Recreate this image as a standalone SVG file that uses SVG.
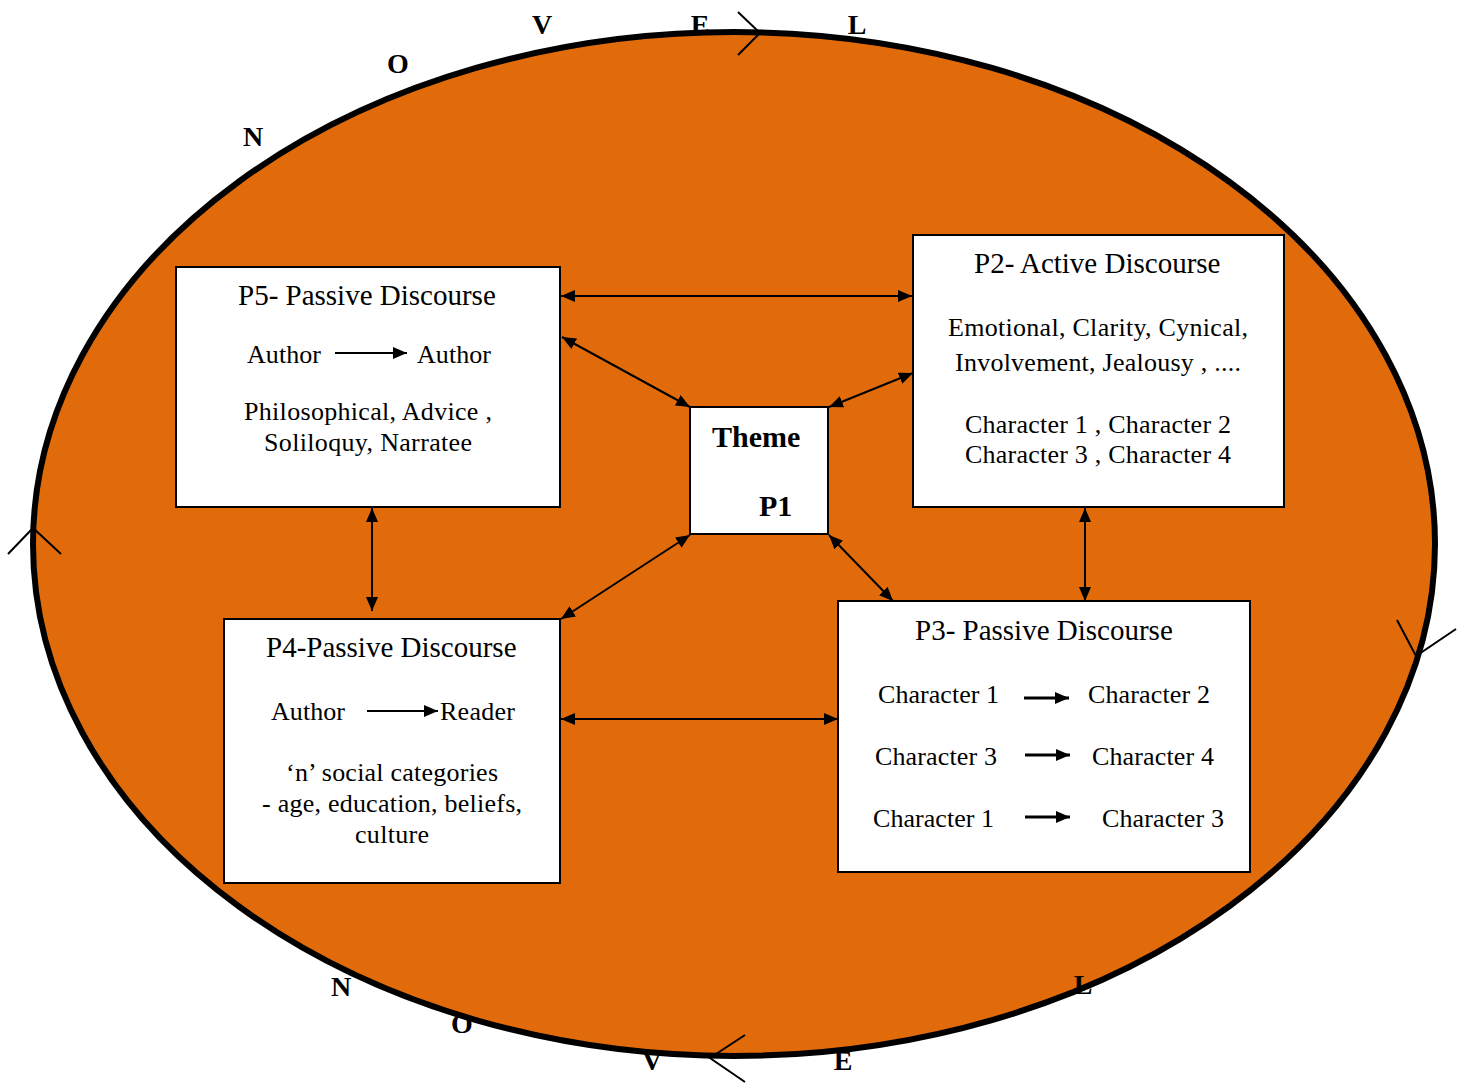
<svg xmlns="http://www.w3.org/2000/svg" width="1465" height="1084" viewBox="0 0 1465 1084">
<style>
.t{font-family:"Liberation Serif","Times New Roman",serif;font-size:26px;fill:#000}
.h{font-size:29px}
.b{font-family:"Liberation Serif","Times New Roman",serif;font-weight:bold;fill:#000}
.lt{font-size:28px;text-anchor:middle}
.box{fill:#fff;stroke:#000;stroke-width:2}
.con{stroke:#000;stroke-width:2;fill:none;marker-start:url(#ah);marker-end:url(#ah)}
.tk{stroke:#000;stroke-width:2;fill:none}
</style>
<defs>
<marker id="ah" viewBox="0 0 14 12" refX="14" refY="6" markerWidth="14" markerHeight="12" markerUnits="userSpaceOnUse" orient="auto-start-reverse">
<path d="M0,0 L14,6 L0,12 Z" fill="#000"/>
</marker>
<marker id="sh" viewBox="0 0 14 12" refX="14" refY="6" markerWidth="14" markerHeight="12" markerUnits="userSpaceOnUse" orient="auto">
<path d="M0,0 L14,6 L0,12 Z" fill="#000"/>
</marker>
</defs>
<rect width="1465" height="1084" fill="#fff"/>
<ellipse id="novel" cx="734" cy="544" rx="701" ry="512" fill="#E16B0B" stroke="#000" stroke-width="6"/>
<g id="letters">
<text class="b lt" x="253" y="146">N</text>
<text class="b lt" x="398" y="73">O</text>
<text class="b lt" x="542" y="34">V</text>
<text class="b lt" x="700" y="34">E</text>
<text class="b lt" x="857" y="34">L</text>
<text class="b lt" x="341" y="996">N</text>
<text class="b lt" x="462" y="1033">O</text>
<text class="b lt" x="652" y="1070">V</text>
<text class="b lt" x="843" y="1070">E</text>
<text class="b lt" x="1083" y="994">L</text>
</g>
<g id="ticks">
<path class="tk" d="M738,12 L760,33 L738,55"/>
<path class="tk" d="M8,554 L33,528 L61,554"/>
<path class="tk" d="M1397,620 L1416,656 L1456,629"/>
<path class="tk" d="M745,1035 L710,1058 L745,1082"/>
</g>
<g id="connectors">
<line class="con" x1="561" y1="296" x2="912" y2="296"/>
<line class="con" x1="562" y1="337" x2="690" y2="407"/>
<line class="con" x1="913" y1="373" x2="829" y2="407"/>
<line class="con" x1="372" y1="508" x2="372" y2="611"/>
<line class="con" x1="690" y1="535" x2="561" y2="619"/>
<line class="con" x1="829" y1="535" x2="893" y2="601"/>
<line class="con" x1="1085" y1="508" x2="1085" y2="601"/>
<line class="con" x1="561" y1="719" x2="838" y2="719"/>
</g>
<g id="p5">
<rect class="box" x="176" y="267" width="384" height="240"/>
<text class="t h" x="238" y="305">P5- Passive Discourse</text>
<text class="t" x="247" y="363" textLength="74">Author</text>
<line x1="335" y1="353" x2="407" y2="353" stroke="#000" stroke-width="2" marker-end="url(#sh)"/>
<text class="t" x="417" y="363" textLength="74">Author</text>
<text class="t" x="244" y="420" textLength="248">Philosophical, Advice ,</text>
<text class="t" x="264" y="451" textLength="208">Soliloquy, Narratee</text>
</g>
<g id="p2">
<rect class="box" x="913" y="235" width="371" height="272"/>
<text class="t h" x="974" y="273">P2- Active Discourse</text>
<text class="t" x="948" y="336" textLength="300">Emotional, Clarity, Cynical,</text>
<text class="t" x="955" y="371" textLength="286">Involvement, Jealousy , ....</text>
<text class="t" x="965" y="433" textLength="266">Character 1 , Character 2</text>
<text class="t" x="965" y="463" textLength="266">Character 3 , Character 4</text>
</g>
<g id="theme">
<rect class="box" x="690" y="407" width="138" height="127"/>
<text class="b" x="712" y="447" font-size="30">Theme</text>
<text class="b" x="759" y="516" font-size="30">P1</text>
</g>
<g id="p4">
<rect class="box" x="224" y="619" width="336" height="264"/>
<text class="t h" x="266" y="657">P4-Passive Discourse</text>
<text class="t" x="271" y="720" textLength="74">Author</text>
<line x1="367" y1="711" x2="438" y2="711" stroke="#000" stroke-width="2" marker-end="url(#sh)"/>
<text class="t" x="440" y="720" textLength="75">Reader</text>
<text class="t" x="286" y="781" textLength="212">‘n’ social categories</text>
<text class="t" x="262" y="812" textLength="260">- age, education, beliefs,</text>
<text class="t" x="355" y="843" textLength="74">culture</text>
</g>
<g id="p3">
<rect class="box" x="838" y="601" width="412" height="271"/>
<text class="t h" x="915" y="640">P3- Passive Discourse</text>
<text class="t" x="878" y="703" textLength="121">Character 1</text>
<line x1="1024" y1="698" x2="1069" y2="698" stroke="#000" stroke-width="3" marker-end="url(#sh)"/>
<text class="t" x="1088" y="703" textLength="122">Character 2</text>
<text class="t" x="875" y="765" textLength="122">Character 3</text>
<line x1="1025" y1="755" x2="1070" y2="755" stroke="#000" stroke-width="3" marker-end="url(#sh)"/>
<text class="t" x="1092" y="765" textLength="122">Character 4</text>
<text class="t" x="873" y="827" textLength="121">Character 1</text>
<line x1="1025" y1="817" x2="1070" y2="817" stroke="#000" stroke-width="3" marker-end="url(#sh)"/>
<text class="t" x="1102" y="827" textLength="122">Character 3</text>
</g>
</svg>
